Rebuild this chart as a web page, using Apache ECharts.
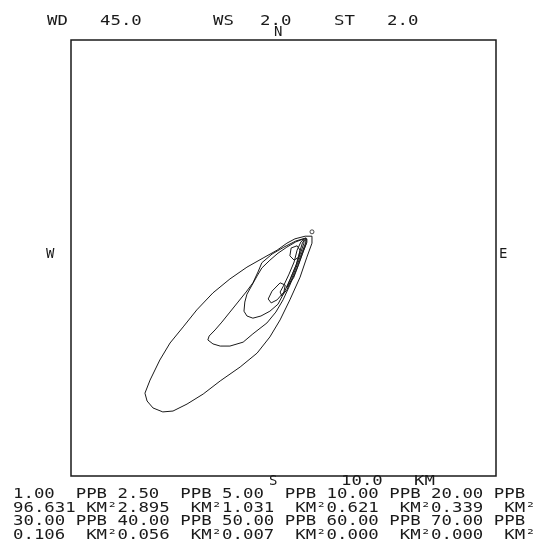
<!DOCTYPE html>
<html>
<head>
<meta charset="utf-8">
<script src="https://cdn.jsdelivr.net/npm/echarts@6/dist/echarts.min.js"></script>
<style>
html, body { margin: 0; padding: 0; background: #fff; }
#chart { width: 540px; height: 551px; }
</style>
</head>
<body>
<div id="chart"></div>
<script>
// run parameters
var windDir = '45.0'
var windSpeed = '2.0'
var stability = '2.0'
var scaleText = '10.0'
// contour levels (ppb) and enclosed areas (km2)
var levels = [1.00, 2.50, 5.00, 10.00, 20.00, 30.00, 40.00, 50.00, 60.00, 70.00]
var areas = [96.631, 2.895, 1.031, 0.621, 0.339, 0.106, 0.056, 0.007, 0.000, 0.000]

// contour lines, [x km, y km]
var contourOuter = [[5.67,5.50],[5.51,5.50],[5.27,5.44],[5.08,5.34],[4.85,5.18],[4.52,5.00],[4.14,4.79],[3.74,4.52],[3.34,4.20],[2.96,3.81],[2.64,3.42],[2.33,3.05],[2.09,2.66],[1.86,2.20],[1.74,1.90],[1.79,1.72],[1.93,1.56],[2.16,1.47],[2.40,1.49],[2.73,1.65],[3.11,1.88],[3.51,2.18],[3.98,2.50],[4.38,2.82],[4.68,3.19],[4.92,3.58],[5.15,4.04],[5.39,4.56],[5.55,5.02],[5.67,5.34],[5.67,5.50]]
var contourMid = [[5.53,5.46],[5.29,5.39],[5.01,5.25],[4.73,5.09],[4.49,4.89],[4.40,4.68],[4.28,4.43],[4.12,4.22],[3.93,3.99],[3.74,3.76],[3.55,3.53],[3.39,3.35],[3.25,3.21],[3.22,3.12],[3.34,3.03],[3.51,2.98],[3.74,2.98],[4.05,3.07],[4.28,3.26],[4.61,3.51],[4.82,3.76],[4.99,4.04],[5.15,4.38],[5.32,4.77],[5.44,5.09],[5.53,5.32],[5.53,5.46]]
var contourInner = [[5.48,5.44],[5.29,5.37],[5.08,5.25],[4.87,5.11],[4.68,4.95],[4.49,4.77],[4.38,4.59],[4.26,4.38],[4.14,4.17],[4.09,3.99],[4.07,3.78],[4.14,3.67],[4.28,3.62],[4.47,3.67],[4.68,3.78],[4.87,3.94],[5.01,4.20],[5.15,4.50],[5.29,4.82],[5.41,5.14],[5.48,5.34],[5.48,5.44]]
var contourCore = [[5.53,5.46],[5.41,5.37],[5.32,5.18],[5.25,4.91],[5.13,4.63],[5.01,4.38],[4.92,4.22],[4.96,4.13],[5.08,4.27],[5.20,4.54],[5.32,4.84],[5.44,5.14],[5.53,5.37],[5.53,5.46]]
var contourCore2 = [[5.55,5.44],[5.45,5.36],[5.38,5.14],[5.30,4.85],[5.18,4.56],[5.08,4.33],[5.12,4.30],[5.24,4.55],[5.36,4.86],[5.47,5.16],[5.55,5.36],[5.55,5.44]]
var loopA = [[5.18,5.23],[5.32,5.28],[5.39,5.18],[5.36,5.02],[5.25,4.95],[5.15,5.05],[5.18,5.23]]
var loopB = [[4.92,4.43],[5.04,4.38],[5.01,4.22],[4.85,4.04],[4.71,3.97],[4.64,4.06],[4.73,4.24],[4.92,4.43]]
var sourceDot = [[5.67,5.60]]

var contours = [contourOuter, contourMid, contourInner, contourCore, contourCore2, loopA, loopB]

function padRight(s, n) {
  while (s.length < n) s += ' '
  return s
}

var rowLevelA = levels.slice(0, 5).map(function (v) { return padRight(v.toFixed(2), 6) + 'PPB ' }).join('')
var rowAreaA = areas.slice(0, 5).map(function (v) { return padRight(v.toFixed(3), 6) + ' KM²' }).join('')
var rowLevelB = levels.slice(5).map(function (v) { return padRight(v.toFixed(2), 6) + 'PPB ' }).join('')
var rowAreaB = areas.slice(5).map(function (v) { return padRight(v.toFixed(3), 6) + ' KM²' }).join('')

var font = '"DejaVu Sans Mono", monospace'
var ink = '#1a1a1a'

function label(x, y, text, sx) {
  return {
    type: 'text',
    x: x,
    y: y,
    scaleX: sx || 1.24,
    style: { text: text, font: '14px ' + font, fill: ink, textVerticalAlign: 'middle' }
  }
}

var myChart = echarts.init(document.getElementById('chart'))

var series = contours.map(function (c) {
  return {
    type: 'line',
    data: c,
    showSymbol: false,
    silent: true,
    lineStyle: { color: ink, width: 1 }
  }
})
series.push({
  type: 'scatter',
  data: sourceDot,
  symbolSize: 4,
  silent: true,
  itemStyle: { color: '#fff', borderColor: ink, borderWidth: 1 }
})

var option = {
  animation: false,
  grid: {
    left: 71, top: 40, width: 425, height: 436,
    show: true, borderColor: ink, borderWidth: 1.5
  },
  xAxis: { type: 'value', min: 0, max: 10, show: false },
  yAxis: { type: 'value', min: 0, max: 10, show: false },
  series: series,
  graphic: [
    label(47, 21, 'WD'),
    label(100, 21, windDir),
    label(213, 21, 'WS'),
    label(260, 21, windSpeed),
    label(334, 21, 'ST'),
    label(387, 21, stability),
    label(274, 32, 'N', 1),
    label(46, 254, 'W', 1),
    label(499, 254, 'E', 1),
    label(269, 481, 'S', 1),
    label(341, 481, scaleText),
    label(414, 481, 'KM'),
    label(13, 494, rowLevelA),
    label(13, 508, rowAreaA),
    label(13, 521, rowLevelB),
    label(13, 535, rowAreaB)
  ]
}
myChart.setOption(option)
</script>
</body>
</html>
